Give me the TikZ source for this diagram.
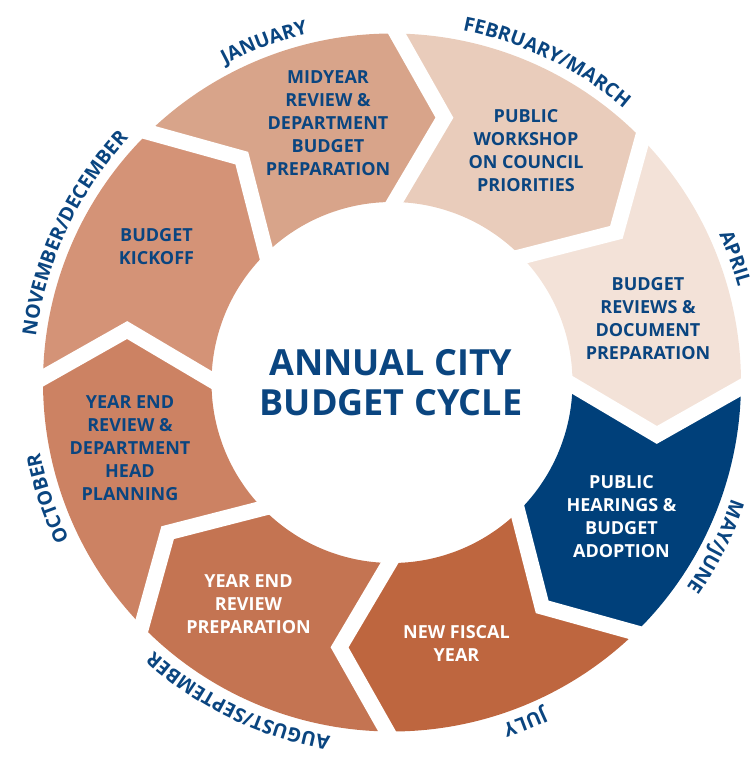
\documentclass[tikz,border=0pt]{standalone}
\usepackage{fontspec}
\setsansfont{Open Sans}
\usetikzlibrary{calc,decorations.text}
\definecolor{navy}{HTML}{0A4580}
\definecolor{adopt}{HTML}{00407A}
\definecolor{jan}{HTML}{D8A48A}
\definecolor{febmar}{HTML}{E9CCBB}
\definecolor{april}{HTML}{F3E2D8}
\definecolor{july}{HTML}{BE663F}
\definecolor{augsep}{HTML}{C47452}
\definecolor{october}{HTML}{CC8263}
\definecolor{novdec}{HTML}{D49377}
\newcommand\monthfont{\fontsize{19.5}{20}\selectfont\sffamily\bfseries}

\begin{document}
\begin{tikzpicture}[
    x=1pt, y=1pt,
    font=\sffamily\bfseries,
    gapline/.style={white, line width=15.5pt},
    task/.style={align=center, text=navy, inner sep=0pt,
                 font=\sffamily\bfseries\fontsize{18}{23}\selectfont},
    taskw/.style={task, text=white},
    heading/.style={align=center, text=navy, inner sep=0pt,
                    font=\sffamily\bfseries\fontsize{36}{39.5}\selectfont},
    month/.style={decorate, decoration={text along path, text align=center,
                  text color=navy}},
]
\useasboundingbox (-392,-377.5) rectangle (359,382.5);

% ---- chevron tips between the months ----
\coordinate (janfeb) at (78.8:270pt);
\coordinate (febapr) at (33.8:270pt);
\coordinate (aprmay) at (-11.2:270pt);
\coordinate (mayjul) at (-56.2:270pt);
\coordinate (julaug) at (-101.2:270pt);
\coordinate (augoct) at (-146.2:270pt);
\coordinate (octnov) at (-191.2:270pt);
\coordinate (novjan) at (-236.2:270pt);

% ---- ring segments ----
\fill[jan] (134.2:349pt) arc[start angle=134.2, end angle=89.2, radius=349pt]
    -- (janfeb) -- (89.2:180.5pt) arc[start angle=89.2, end angle=134.2, radius=180.5pt]
    -- (novjan) -- cycle;
\fill[febmar] (89.2:349pt) arc[start angle=89.2, end angle=44.2, radius=349pt]
    -- (febapr) -- (44.2:180.5pt) arc[start angle=44.2, end angle=89.2, radius=180.5pt]
    -- (janfeb) -- cycle;
\fill[april] (44.2:349pt) arc[start angle=44.2, end angle=-0.8, radius=349pt]
    -- (aprmay) -- (-0.8:180.5pt) arc[start angle=-0.8, end angle=44.2, radius=180.5pt]
    -- (febapr) -- cycle;
\fill[adopt] (-0.8:349pt) arc[start angle=-0.8, end angle=-45.8, radius=349pt]
    -- (mayjul) -- (-45.8:180.5pt) arc[start angle=-45.8, end angle=-0.8, radius=180.5pt]
    -- (aprmay) -- cycle;
\fill[july] (-45.8:349pt) arc[start angle=-45.8, end angle=-90.8, radius=349pt]
    -- (julaug) -- (-90.8:180.5pt) arc[start angle=-90.8, end angle=-45.8, radius=180.5pt]
    -- (mayjul) -- cycle;
\fill[augsep] (-90.8:349pt) arc[start angle=-90.8, end angle=-135.8, radius=349pt]
    -- (augoct) -- (-135.8:180.5pt) arc[start angle=-135.8, end angle=-90.8, radius=180.5pt]
    -- (julaug) -- cycle;
\fill[october] (-135.8:349pt) arc[start angle=-135.8, end angle=-180.8, radius=349pt]
    -- (octnov) -- (-180.8:180.5pt) arc[start angle=-180.8, end angle=-135.8, radius=180.5pt]
    -- (augoct) -- cycle;
\fill[novdec] (-180.8:349pt) arc[start angle=-180.8, end angle=-225.8, radius=349pt]
    -- (novjan) -- (-225.8:180.5pt) arc[start angle=-225.8, end angle=-180.8, radius=180.5pt]
    -- (octnov) -- cycle;

% ---- white gaps ----
\draw[gapline] ($(janfeb)!1.12!(89.2:349pt)$) -- (janfeb) -- ($(janfeb)!1.12!(89.2:180.5pt)$);
\draw[gapline] ($(febapr)!1.12!(44.2:349pt)$) -- (febapr) -- ($(febapr)!1.12!(44.2:180.5pt)$);
\draw[gapline] ($(aprmay)!1.12!(-0.8:349pt)$) -- (aprmay) -- ($(aprmay)!1.12!(-0.8:180.5pt)$);
\draw[gapline] ($(mayjul)!1.12!(-45.8:349pt)$) -- (mayjul) -- ($(mayjul)!1.12!(-45.8:180.5pt)$);
\draw[gapline] ($(julaug)!1.12!(-90.8:349pt)$) -- (julaug) -- ($(julaug)!1.12!(-90.8:180.5pt)$);
\draw[gapline] ($(augoct)!1.12!(-135.8:349pt)$) -- (augoct) -- ($(augoct)!1.12!(-135.8:180.5pt)$);
\draw[gapline] ($(octnov)!1.12!(-180.8:349pt)$) -- (octnov) -- ($(octnov)!1.12!(-180.8:180.5pt)$);
\draw[gapline] ($(novjan)!1.12!(-225.8:349pt)$) -- (novjan) -- ($(novjan)!1.12!(-225.8:180.5pt)$);

% ---- steps ----
\node[task] (midyear) at (-64,259.5) {MIDYEAR\\REVIEW \&\\DEPARTMENT\\BUDGET\\PREPARATION};
\node[task] (workshop) at (134,232) {PUBLIC\\WORKSHOP\\ON COUNCIL\\PRIORITIES};
\node[task] (reviews) at (256,63.5) {BUDGET\\REVIEWS \&\\DOCUMENT\\PREPARATION};
\node[taskw] (hearings) at (229.5,-134.5) {PUBLIC\\HEARINGS \&\\BUDGET\\ADOPTION};
\node[taskw] (fiscal) at (64.5,-260.5) {NEW FISCAL\\YEAR};
\node[taskw] (yearend) at (-143.5,-222) {YEAR END\\REVIEW\\PREPARATION};
\node[task] (planning) at (-262,-65.5) {YEAR END\\REVIEW \&\\DEPARTMENT\\HEAD\\PLANNING};
\node[task] (kickoff) at (-235.5,136) {BUDGET\\KICKOFF};
\node[heading] (cycle) at (-1,0) {ANNUAL CITY\\BUDGET CYCLE};

% ---- months along the rim ----
\path[month, decoration={text={|\monthfont|JANUARY}}]
    (160.6:359pt) arc[start angle=160.6, end angle=60.6, radius=359pt];
\path[month, decoration={text={|\monthfont|FEBRUARY/MARCH}}]
    (114.2:359pt) arc[start angle=114.2, end angle=14.2, radius=359pt];
\path[month, decoration={text={|\monthfont|APRIL}}]
    (69.9:359pt) arc[start angle=69.9, end angle=-30.1, radius=359pt];
\path[month, decoration={text={|\monthfont|MAY/JUNE}}]
    (23.1:359pt) arc[start angle=23.1, end angle=-76.9, radius=359pt];
\path[month, decoration={text={|\monthfont|JULY}}]
    (-18.6:359pt) arc[start angle=-18.6, end angle=-118.6, radius=359pt];
\path[month, decoration={text={|\monthfont|AUGUST/SEPTEMBER}}]
    (-65.7:359pt) arc[start angle=-65.7, end angle=-165.7, radius=359pt];
\path[month, decoration={text={|\monthfont|OCTOBER}}]
    (248.6:359pt) arc[start angle=248.6, end angle=148.6, radius=359pt];
\path[month, decoration={text={|\monthfont|NOVEMBER/DECEMBER}}]
    (204.9:359pt) arc[start angle=204.9, end angle=104.9, radius=359pt];
\end{tikzpicture}
\end{document}
